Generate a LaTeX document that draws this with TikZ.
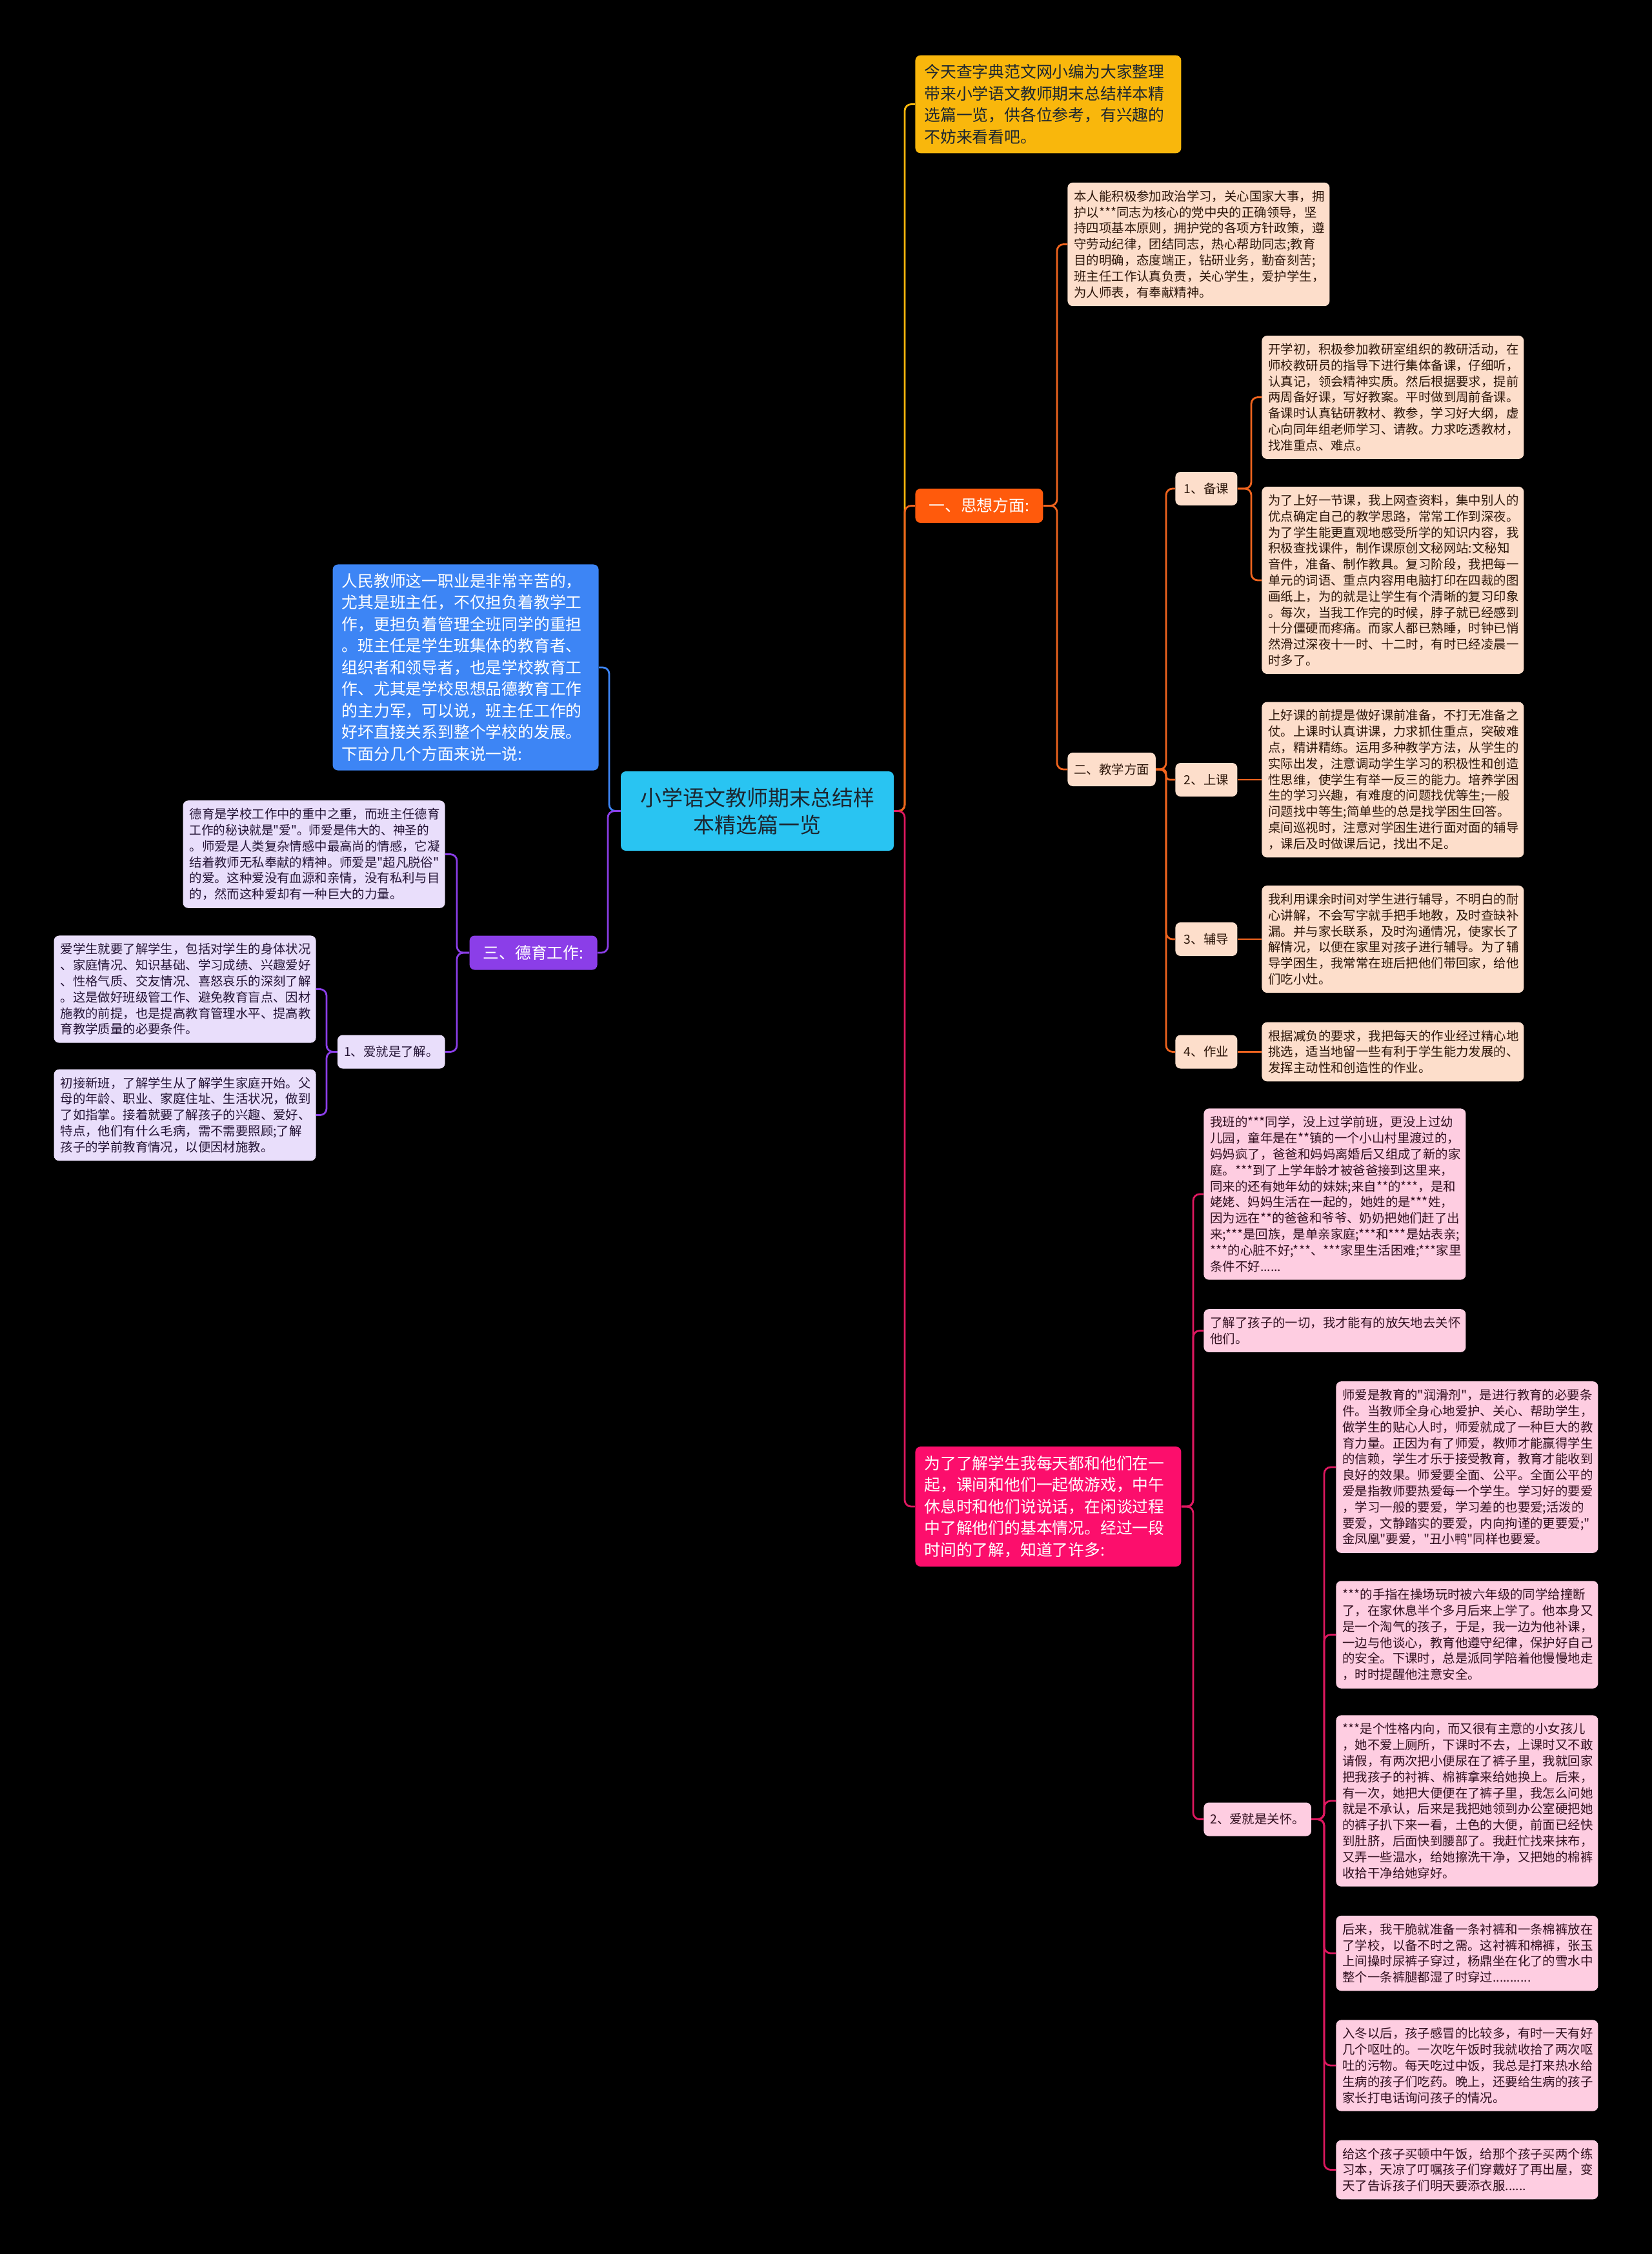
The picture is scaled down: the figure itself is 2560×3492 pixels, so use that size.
\documentclass[tikz,border=0pt]{standalone}
\usepackage{fontspec}
\setmainfont{Noto Sans CJK SC}[Ligatures=TeXOff]
\usepackage{graphicx}
\usepackage{tikz}
\definecolor{rootcyan}{RGB}{41,196,242}
\definecolor{rootink}{RGB}{28,38,48}
\definecolor{introyellow}{RGB}{249,183,12}
\definecolor{thoughtorange}{RGB}{255,90,12}
\definecolor{orangeline}{RGB}{240,100,30}
\definecolor{peachfill}{RGB}{253,222,203}
\definecolor{peachink}{RGB}{45,22,10}
\definecolor{lovepink}{RGB}{252,14,108}
\definecolor{pinkline}{RGB}{222,24,96}
\definecolor{pinkfill}{RGB}{254,205,225}
\definecolor{pinkink}{RGB}{50,16,32}
\definecolor{introblue}{RGB}{61,133,245}
\definecolor{moralpurple}{RGB}{139,62,232}
\definecolor{lavenderfill}{RGB}{233,222,251}
\definecolor{lavenderink}{RGB}{36,20,54}
\newcommand{\squeezeline}[1]{\scalebox{0.96}[1]{#1}}

\begin{document}
\begin{tikzpicture}[
    x=0.5pt, y=-0.5pt,
    rootbox/.style={fill=rootcyan, rounded corners=4pt, text=rootink, font=\fontsize{16.5}{21}\selectfont, text width=197.5pt, align=center, minimum height=61.5pt, inner xsep=7pt},
    mainbox/.style={rounded corners=4pt, text=white, font=\fontsize{12.4}{16.75}\selectfont, text width=192pt, align=left, inner xsep=7pt, inner ysep=7pt},
    tagbox/.style={rounded corners=4pt, text=white, font=\fontsize{12.4}{16.75}\selectfont, minimum height=26.5pt, minimum width=99pt, inner xsep=7pt},
    leafbox/.style={rounded corners=4pt, font=\fontsize{9.7}{12.4}\selectfont, text width=193pt, align=left, inner xsep=5pt, inner ysep=6pt},
    smalltag/.style={rounded corners=4pt, font=\fontsize{9.7}{12.4}\selectfont, minimum height=26pt, minimum width=48pt, inner xsep=5pt},
    link/.style={line width=1.4pt, rounded corners=5pt}
]
    \fill[black] (0,0) rectangle (2560,3492);

    % centre
    \node[rootbox] (root) at (1173.5,1256.5) {小学语文教师期末总结样\\本精选篇一览};

    % right side
    \node[mainbox, fill=introyellow, text=rootink, anchor=west] (intro) at (1418,161.5) {今天查字典范文网小编为大家整理\\带来小学语文教师期末总结样本精\\选篇一览，供各位参考，有兴趣的\\不妨来看看吧。};

    \node[tagbox, fill=thoughtorange, anchor=west] (thought) at (1418,783.5) {一、思想方面:};
    \node[leafbox, fill=peachfill, text=peachink, anchor=west] (politics) at (1654,378.5) {本人能积极参加政治学习，关心国家大事，拥\\护以***同志为核心的党中央的正确领导，坚\\持四项基本原则，拥护党的各项方针政策，遵\\守劳动纪律，团结同志，热心帮助同志;教育\\目的明确，态度端正，钻研业务，勤奋刻苦;\\班主任工作认真负责，关心学生，爱护学生，\\为人师表，有奉献精神。};
    \node[smalltag, fill=peachfill, text=peachink, anchor=west] (teaching) at (1654,1192) {二、教学方面};

    \node[smalltag, fill=peachfill, text=peachink, anchor=west] (prepare) at (1821,757) {1、备课};
    \node[leafbox, fill=peachfill, text=peachink, anchor=west] (prepareA) at (1955,615.5) {开学初，积极参加教研室组织的教研活动，在\\师校教研员的指导下进行集体备课，仔细听，\\认真记，领会精神实质。然后根据要求，提前\\两周备好课，写好教案。平时做到周前备课。\\备课时认真钻研教材、教参，学习好大纲，虚\\心向同年组老师学习、请教。力求吃透教材，\\找准重点、难点。};
    \node[leafbox, fill=peachfill, text=peachink, anchor=west] (prepareB) at (1955,899) {为了上好一节课，我上网查资料，集中别人的\\优点确定自己的教学思路，常常工作到深夜。\\为了学生能更直观地感受所学的知识内容，我\\积极查找课件，制作课原创文秘网站:文秘知\\音件，准备、制作教具。复习阶段，我把每一\\单元的词语、重点内容用电脑打印在四裁的图\\画纸上，为的就是让学生有个清晰的复习印象\\。每次，当我工作完的时候，脖子就已经感到\\十分僵硬而疼痛。而家人都已熟睡，时钟已悄\\然滑过深夜十一时、十二时，有时已经凌晨一\\时多了。};

    \node[smalltag, fill=peachfill, text=peachink, anchor=west] (lesson) at (1821,1208) {2、上课};
    \node[leafbox, fill=peachfill, text=peachink, anchor=west] (lessontext) at (1955,1208) {上好课的前提是做好课前准备，不打无准备之\\仗。上课时认真讲课，力求抓住重点，突破难\\点，精讲精练。运用多种教学方法，从学生的\\实际出发，注意调动学生学习的积极性和创造\\性思维，使学生有举一反三的能力。培养学困\\生的学习兴趣，有难度的问题找优等生;一般\\问题找中等生;简单些的总是找学困生回答。\\桌间巡视时，注意对学困生进行面对面的辅导\\，课后及时做课后记，找出不足。};

    \node[smalltag, fill=peachfill, text=peachink, anchor=west] (tutor) at (1821,1455) {3、辅导};
    \node[leafbox, fill=peachfill, text=peachink, anchor=west] (tutortext) at (1955,1455) {我利用课余时间对学生进行辅导，不明白的耐\\心讲解，不会写字就手把手地教，及时查缺补\\漏。并与家长联系，及时沟通情况，使家长了\\解情况，以便在家里对孩子进行辅导。为了辅\\导学困生，我常常在班后把他们带回家，给他\\们吃小灶。};

    \node[smalltag, fill=peachfill, text=peachink, anchor=west] (homework) at (1821,1629.5) {4、作业};
    \node[leafbox, fill=peachfill, text=peachink, anchor=west] (homeworktext) at (1955,1629.5) {根据减负的要求，我把每天的作业经过精心地\\挑选，适当地留一些有利于学生能力发展的、\\发挥主动性和创造性的作业。};

    \node[mainbox, fill=lovepink, anchor=west] (know) at (1418,2334) {为了了解学生我每天都和他们在一\\起，课间和他们一起做游戏，中午\\休息时和他们说说话，在闲谈过程\\中了解他们的基本情况。经过一段\\时间的了解，知道了许多:};
    \node[leafbox, fill=pinkfill, text=pinkink, anchor=west] (knowA) at (1865,1850) {我班的***同学，没上过学前班，更没上过幼\\儿园，童年是在**镇的一个小山村里渡过的，\\妈妈疯了，爸爸和妈妈离婚后又组成了新的家\\庭。***到了上学年龄才被爸爸接到这里来，\\同来的还有她年幼的妹妹;来自**的***，是和\\姥姥、妈妈生活在一起的，她姓的是***姓，\\因为远在**的爸爸和爷爷、奶奶把她们赶了出\\来;***是回族，是单亲家庭;***和***是姑表亲;\\{}***的心脏不好;***、***家里生活困难;***家里\\条件不好......};
    \node[leafbox, fill=pinkfill, text=pinkink, anchor=west] (knowB) at (1865,2061.5) {了解了孩子的一切，我才能有的放矢地去关怀\\他们。};
    \node[smalltag, fill=pinkfill, text=pinkink, anchor=west] (care) at (1865,2818.5) {2、爱就是关怀。};

    \node[leafbox, fill=pinkfill, text=pinkink, anchor=west] (careA) at (2070,2273) {师爱是教育的"润滑剂"，是进行教育的必要条\\件。当教师全身心地爱护、关心、帮助学生，\\做学生的贴心人时，师爱就成了一种巨大的教\\育力量。正因为有了师爱，教师才能赢得学生\\的信赖，学生才乐于接受教育，教育才能收到\\良好的效果。师爱要全面、公平。全面公平的\\爱是指教师要热爱每一个学生。学习好的要爱\\，学习一般的要爱，学习差的也要爱;活泼的\\要爱，文静踏实的要爱，内向拘谨的更要爱;"\\金凤凰"要爱，"丑小鸭"同样也要爱。};
    \node[leafbox, fill=pinkfill, text=pinkink, anchor=west] (careB) at (2070,2532.5) {***的手指在操场玩时被六年级的同学给撞断\\了，在家休息半个多月后来上学了。他本身又\\是一个淘气的孩子，于是，我一边为他补课，\\一边与他谈心，教育他遵守纪律，保护好自己\\的安全。下课时，总是派同学陪着他慢慢地走\\，时时提醒他注意安全。};
    \node[leafbox, fill=pinkfill, text=pinkink, anchor=west] (careC) at (2070,2790) {***是个性格内向，而又很有主意的小女孩儿\\，她不爱上厕所，下课时不去，上课时又不敢\\请假，有两次把小便尿在了裤子里，我就回家\\把我孩子的衬裤、棉裤拿来给她换上。后来，\\有一次，她把大便便在了裤子里，我怎么问她\\就是不承认，后来是我把她领到办公室硬把她\\的裤子扒下来一看，土色的大便，前面已经快\\到肚脐，后面快到腰部了。我赶忙找来抹布，\\又弄一些温水，给她擦洗干净，又把她的棉裤\\收拾干净给她穿好。};
    \node[leafbox, fill=pinkfill, text=pinkink, anchor=west] (careD) at (2070,3026) {后来，我干脆就准备一条衬裤和一条棉裤放在\\了学校，以备不时之需。这衬裤和棉裤，张玉\\上间操时尿裤子穿过，杨鼎坐在化了的雪水中\\整个一条裤腿都湿了时穿过...........};
    \node[leafbox, fill=pinkfill, text=pinkink, anchor=west] (careE) at (2070,3200) {入冬以后，孩子感冒的比较多，有时一天有好\\几个呕吐的。一次吃午饭时我就收拾了两次呕\\吐的污物。每天吃过中饭，我总是打来热水给\\生病的孩子们吃药。晚上，还要给生病的孩子\\家长打电话询问孩子的情况。};
    \node[leafbox, fill=pinkfill, text=pinkink, anchor=west] (careF) at (2070,3361.5) {给这个孩子买顿中午饭，给那个孩子买两个练\\习本，天凉了叮嘱孩子们穿戴好了再出屋，变\\天了告诉孩子们明天要添衣服......};

    % left side
    \node[mainbox, fill=introblue, anchor=east] (duty) at (928,1034) {人民教师这一职业是非常辛苦的，\\尤其是班主任，不仅担负着教学工\\作，更担负着管理全班同学的重担\\。班主任是学生班集体的教育者、\\组织者和领导者，也是学校教育工\\作、尤其是学校思想品德教育工作\\的主力军，可以说，班主任工作的\\好坏直接关系到整个学校的发展。\\下面分几个方面来说一说:};

    \node[tagbox, fill=moralpurple, anchor=east] (moral) at (926,1476) {三、德育工作:};
    \node[leafbox, fill=lavenderfill, text=lavenderink, anchor=east] (moralA) at (690,1323.5) {德育是学校工作中的重中之重，而班主任德育\\\squeezeline{工作的秘诀就是"爱"。师爱是伟大的、神圣的}\\。师爱是人类复杂情感中最高尚的情感，它凝\\结着教师无私奉献的精神。师爱是"超凡脱俗"\\的爱。这种爱没有血源和亲情，没有私利与目\\的，然而这种爱却有一种巨大的力量。};
    \node[smalltag, fill=lavenderfill, text=lavenderink, anchor=east] (understand) at (690,1629.5) {1、爱就是了解。};
    \node[leafbox, fill=lavenderfill, text=lavenderink, anchor=east] (understandA) at (490,1532.5) {爱学生就要了解学生，包括对学生的身体状况\\、家庭情况、知识基础、学习成绩、兴趣爱好\\、性格气质、交友情况、喜怒哀乐的深刻了解\\。这是做好班级管工作、避免教育盲点、因材\\施教的前提，也是提高教育管理水平、提高教\\育教学质量的必要条件。};
    \node[leafbox, fill=lavenderfill, text=lavenderink, anchor=east] (understandB) at (490,1727.5) {初接新班，了解学生从了解学生家庭开始。父\\母的年龄、职业、家庭住址、生活状况，做到\\了如指掌。接着就要了解孩子的兴趣、爱好、\\特点，他们有什么毛病，需不需要照顾;了解\\孩子的学前教育情况，以便因材施教。};

    % connectors
    \draw[link, introyellow] (root.east) -| ([xshift=-8pt]intro.west) -- (intro.west);
    \draw[link, orangeline] (root.east) -| ([xshift=-8pt]thought.west) -- (thought.west);
    \draw[link, pinkline] (root.east) -| ([xshift=-8pt]know.west) -- (know.west);
    \draw[link, introblue] (root.west) -| ([xshift=8pt]duty.east) -- (duty.east);
    \draw[link, moralpurple] (root.west) -| ([xshift=8pt]moral.east) -- (moral.east);

    \draw[link, orangeline] (thought.east) -| ([xshift=-8pt]politics.west) -- (politics.west);
    \draw[link, orangeline] (thought.east) -| ([xshift=-8pt]teaching.west) -- (teaching.west);
    \draw[link, orangeline] (teaching.east) -| ([xshift=-7pt]prepare.west) -- (prepare.west);
    \draw[link, orangeline, rounded corners=3pt] (teaching.east) -| ([xshift=-7pt]lesson.west) -- (lesson.west);
    \draw[link, orangeline] (teaching.east) -| ([xshift=-7pt]tutor.west) -- (tutor.west);
    \draw[link, orangeline] (teaching.east) -| ([xshift=-7pt]homework.west) -- (homework.west);
    \draw[link, orangeline] (prepare.east) -| ([xshift=-8pt]prepareA.west) -- (prepareA.west);
    \draw[link, orangeline] (prepare.east) -| ([xshift=-8pt]prepareB.west) -- (prepareB.west);
    \draw[link, orangeline] (lesson.east) -- (lessontext.west);
    \draw[link, orangeline] (tutor.east) -- (tutortext.west);
    \draw[link, orangeline] (homework.east) -- (homeworktext.west);

    \draw[link, pinkline] (know.east) -| ([xshift=-8pt]knowA.west) -- (knowA.west);
    \draw[link, pinkline] (know.east) -| ([xshift=-8pt]knowB.west) -- (knowB.west);
    \draw[link, pinkline] (know.east) -| ([xshift=-8pt]care.west) -- (care.west);
    \draw[link, pinkline] (care.east) -| ([xshift=-9pt]careA.west) -- (careA.west);
    \draw[link, pinkline] (care.east) -| ([xshift=-9pt]careB.west) -- (careB.west);
    \draw[link, pinkline] (care.east) -| ([xshift=-9pt]careC.west) -- (careC.west);
    \draw[link, pinkline] (care.east) -| ([xshift=-9pt]careD.west) -- (careD.west);
    \draw[link, pinkline] (care.east) -| ([xshift=-9pt]careE.west) -- (careE.west);
    \draw[link, pinkline] (care.east) -| ([xshift=-9pt]careF.west) -- (careF.west);

    \draw[link, moralpurple] (moral.west) -| ([xshift=9pt]moralA.east) -- (moralA.east);
    \draw[link, moralpurple] (moral.west) -| ([xshift=9pt]understand.east) -- (understand.east);
    \draw[link, moralpurple] (understand.west) -| ([xshift=8pt]understandA.east) -- (understandA.east);
    \draw[link, moralpurple] (understand.west) -| ([xshift=8pt]understandB.east) -- (understandB.east);
\end{tikzpicture}
\end{document}
